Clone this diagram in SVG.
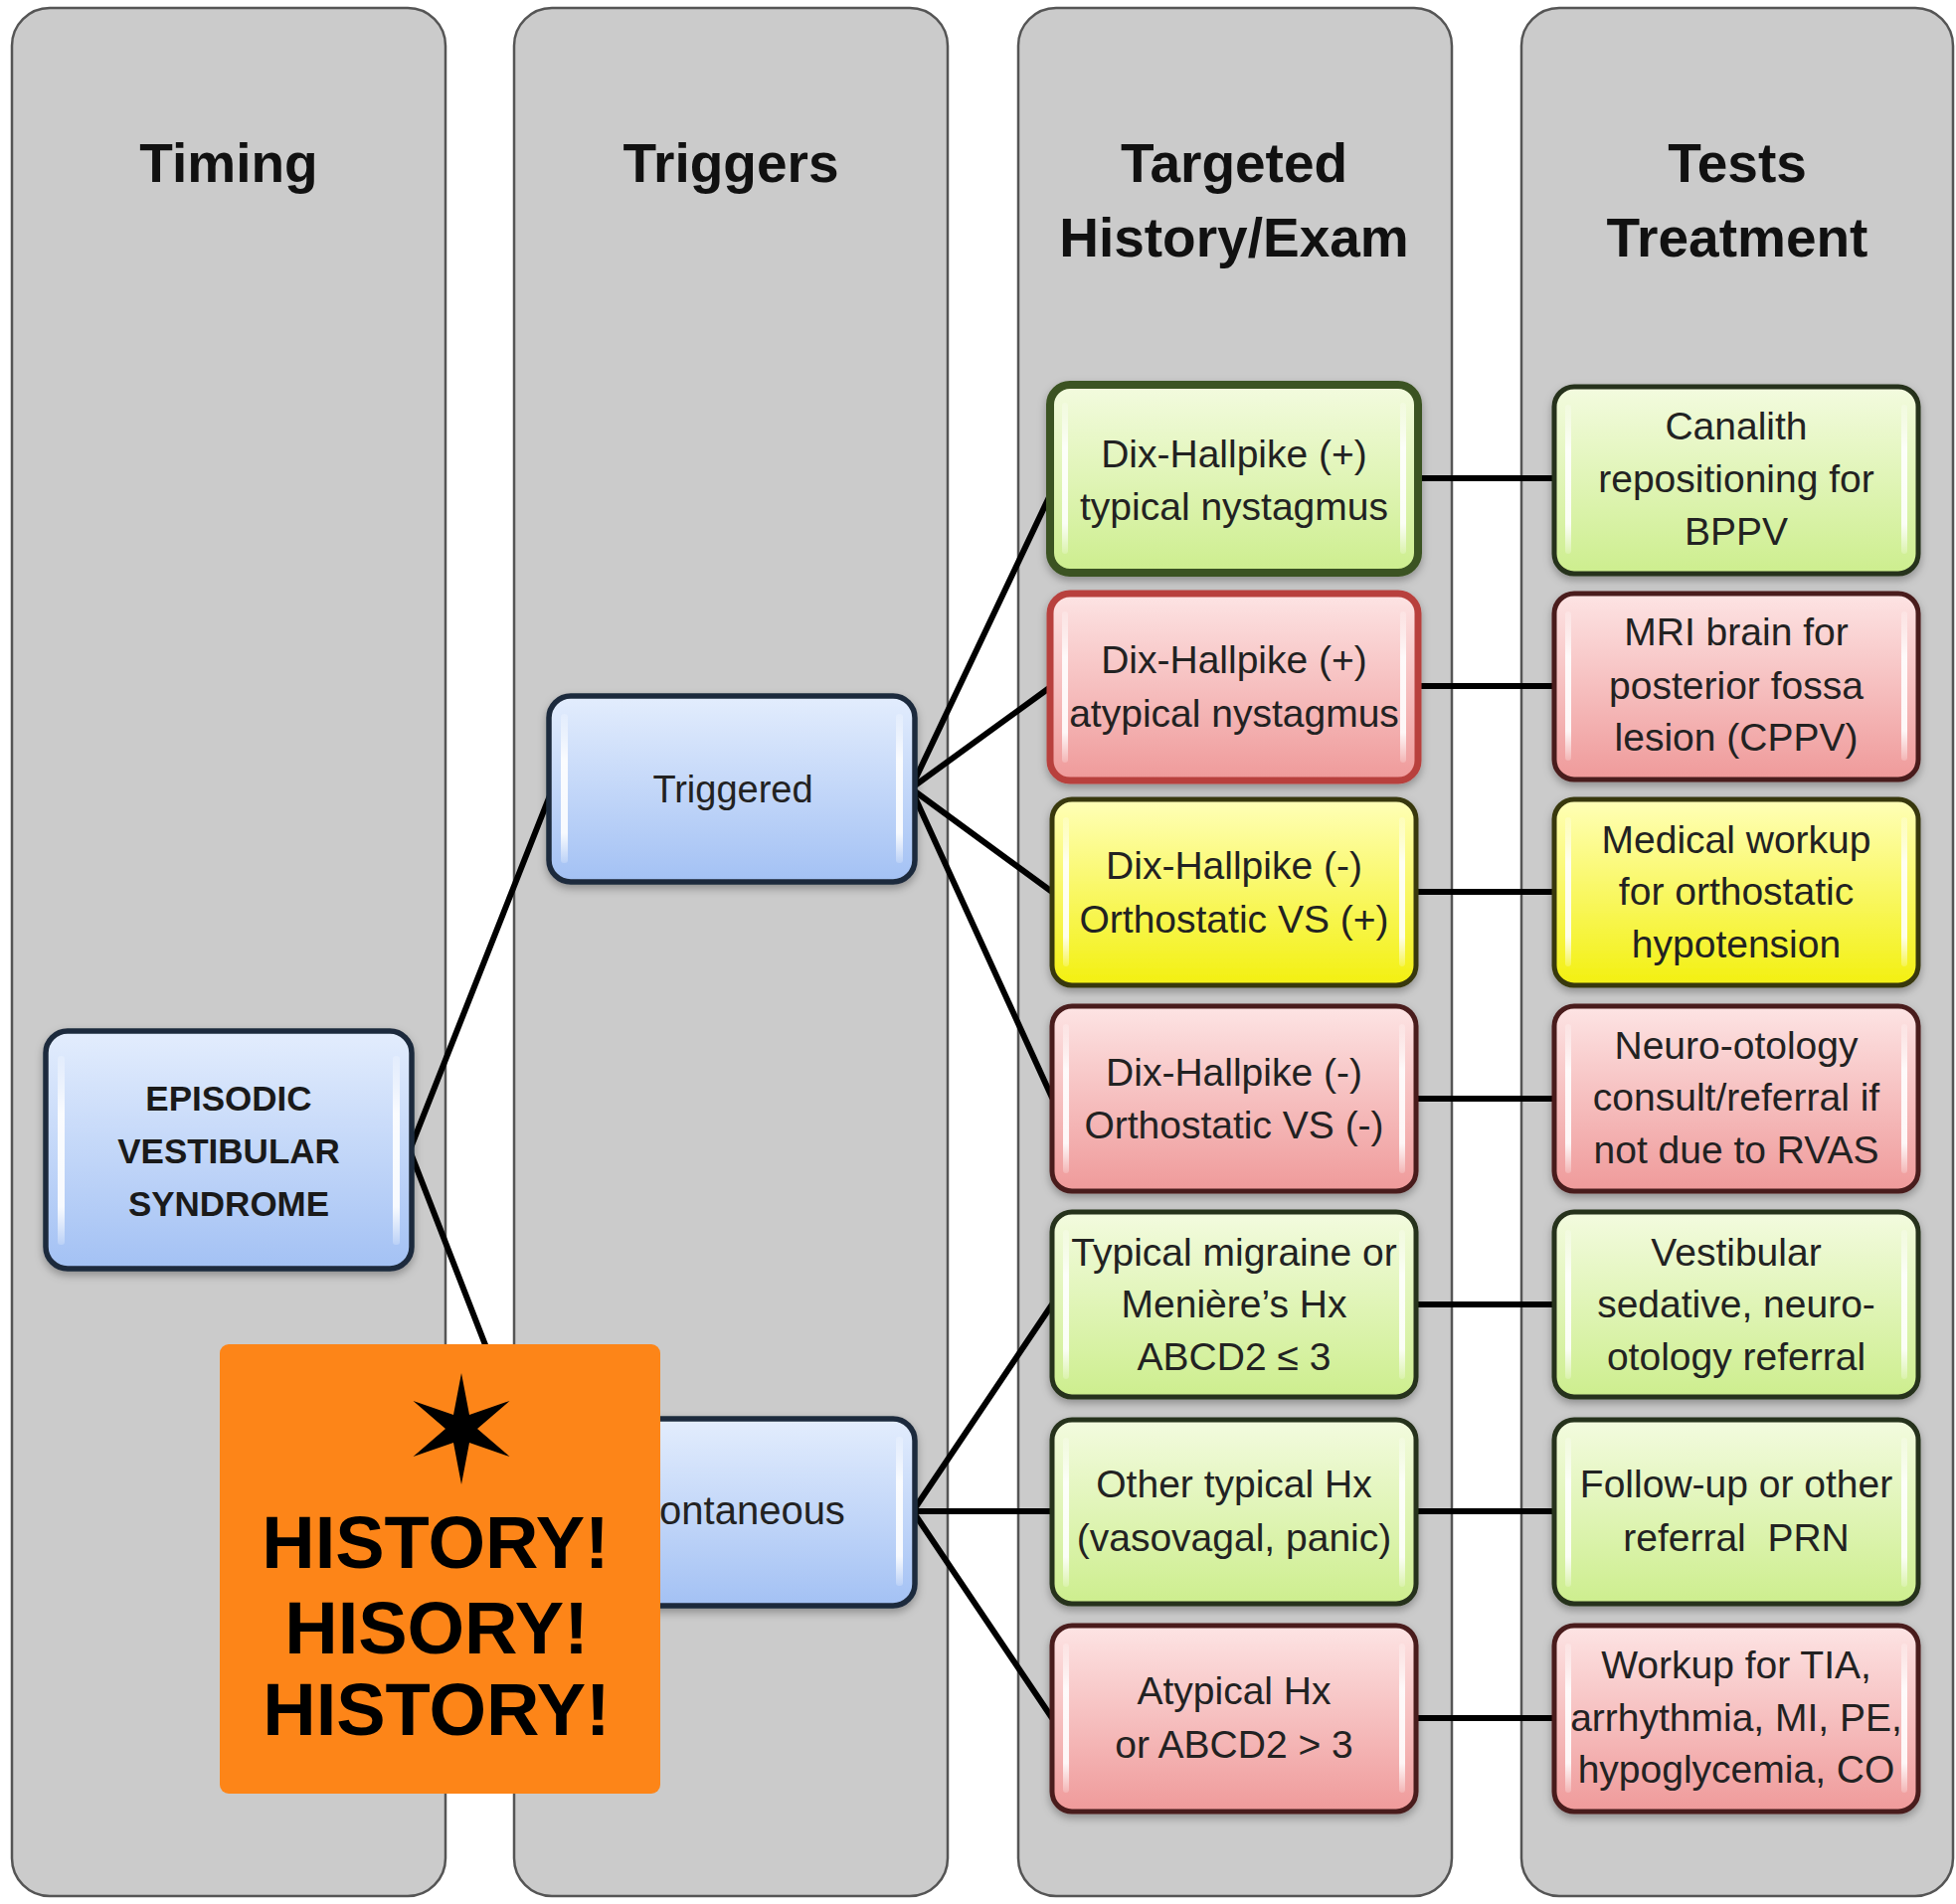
<svg xmlns="http://www.w3.org/2000/svg" width="1967" height="1915" viewBox="0 0 1967 1915">
<defs>
<linearGradient id="gBlue" x1="0" y1="0" x2="0" y2="1"><stop offset="0" stop-color="#E3EDFD"/><stop offset="1" stop-color="#A3C1F4"/></linearGradient>
<linearGradient id="gGreen" x1="0" y1="0" x2="0" y2="1"><stop offset="0" stop-color="#F3FBDF"/><stop offset="1" stop-color="#CDEE8E"/></linearGradient>
<linearGradient id="gRed" x1="0" y1="0" x2="0" y2="1"><stop offset="0" stop-color="#FDE4E4"/><stop offset="1" stop-color="#EF9A9A"/></linearGradient>
<linearGradient id="gYellow" x1="0" y1="0" x2="0" y2="1"><stop offset="0" stop-color="#FFFFB8"/><stop offset="1" stop-color="#F3F010"/></linearGradient>
<linearGradient id="gHi" x1="0" y1="0" x2="0" y2="1"><stop offset="0" stop-color="#FFFFFF" stop-opacity="0.2"/><stop offset="0.3" stop-color="#FFFFFF" stop-opacity="0.9"/><stop offset="0.8" stop-color="#FFFFFF" stop-opacity="0.9"/><stop offset="1" stop-color="#FFFFFF" stop-opacity="0.2"/></linearGradient>
<filter id="sh" x="-10%" y="-10%" width="120%" height="130%"><feDropShadow dx="0" dy="4" stdDeviation="4" flood-color="#000" flood-opacity="0.3"/></filter>
</defs>
<style>
.col{fill:#CBCBCB;stroke:#555;stroke-width:2.5}
.hdr{font-family:"Liberation Sans",Arial,sans-serif;font-weight:bold;font-size:55px;fill:#111;text-anchor:middle}
.t{font-family:"Liberation Sans",Arial,sans-serif;font-size:39px;fill:#222;text-anchor:middle}
.tb{font-family:"Liberation Sans",Arial,sans-serif;font-size:35px;font-weight:bold;fill:#1a1a1a;text-anchor:middle}
.blue{fill:url(#gBlue);stroke:#1E2B3C;stroke-width:5.5}
.green{fill:url(#gGreen);stroke:#26301A;stroke-width:5}
.red{fill:url(#gRed);stroke:#4A1C1C;stroke-width:5}
.yellow{fill:url(#gYellow);stroke:#38380E;stroke-width:5}
.hi{fill:url(#gHi)}
.conn{stroke:#000;stroke-width:6;fill:none;stroke-linecap:round}
.big{font-family:"Liberation Sans",Arial,sans-serif;font-weight:bold;font-size:74px;fill:#000;text-anchor:middle}
</style>

<g id="columns">
<rect class="col" x="12" y="8" width="436" height="1899" rx="38"/>
<rect class="col" x="517" y="8" width="436" height="1899" rx="38"/>
<rect class="col" x="1024" y="8" width="436" height="1899" rx="38"/>
<rect class="col" x="1530" y="8" width="434" height="1899" rx="38"/>
<text class="hdr" x="230" y="183">Timing</text>
<text class="hdr" x="735" y="183">Triggers</text>
<text class="hdr" x="1241" y="183">Targeted</text>
<text class="hdr" x="1241" y="258">History/Exam</text>
<text class="hdr" x="1747" y="183">Tests</text>
<text class="hdr" x="1747" y="258">Treatment</text>
</g>

<g id="connectors">
<line class="conn" x1="412" y1="1157" x2="553" y2="800"/>
<line class="conn" x1="412" y1="1157" x2="553" y2="1520"/>
<line class="conn" x1="916" y1="793" x2="1055" y2="500"/>
<line class="conn" x1="916" y1="793" x2="1055" y2="692"/>
<line class="conn" x1="916" y1="793" x2="1058" y2="897"/>
<line class="conn" x1="916" y1="793" x2="1058" y2="1104"/>
<line class="conn" x1="918" y1="1520" x2="1058" y2="1312"/>
<line class="conn" x1="918" y1="1520" x2="1058" y2="1520"/>
<line class="conn" x1="918" y1="1520" x2="1058" y2="1728"/>
<line class="conn" x1="1426" y1="481" x2="1564" y2="481"/>
<line class="conn" x1="1426" y1="690" x2="1564" y2="690"/>
<line class="conn" x1="1424" y1="897" x2="1564" y2="897"/>
<line class="conn" x1="1424" y1="1105" x2="1564" y2="1105"/>
<line class="conn" x1="1424" y1="1312" x2="1564" y2="1312"/>
<line class="conn" x1="1424" y1="1520" x2="1564" y2="1520"/>
<line class="conn" x1="1424" y1="1728" x2="1564" y2="1728"/>
</g>

<g id="episodic">
<rect class="blue" x="46" y="1037" width="368" height="239" rx="22" filter="url(#sh)"/>
<rect class="hi" x="58" y="1062" width="7" height="190" rx="3"/>
<rect class="hi" x="395" y="1062" width="7" height="190" rx="3"/>
<text class="tb" x="230" y="1117">EPISODIC</text>
<text class="tb" x="230" y="1170">VESTIBULAR</text>
<text class="tb" x="230" y="1223">SYNDROME</text>
</g>

<g id="triggered">
<rect class="blue" x="552" y="700" width="368" height="187" rx="22" filter="url(#sh)"/>
<rect class="hi" x="564" y="718" width="7" height="150" rx="3"/>
<rect class="hi" x="901" y="718" width="7" height="150" rx="3"/>
<text class="t" x="737" y="807" style="font-size:38px">Triggered</text>
</g>

<g id="spontaneous">
<rect class="blue" x="552" y="1427" width="368" height="188" rx="22" filter="url(#sh)"/>
<rect class="hi" x="564" y="1445" width="7" height="150" rx="3"/>
<rect class="hi" x="901" y="1445" width="7" height="150" rx="3"/>
<text class="t" x="732" y="1533" style="font-size:40px">Spontaneous</text>
</g>

<g id="h1">
<rect class="green" x="1056" y="387" width="370" height="189" rx="20" style="stroke:#3A5220;stroke-width:8" filter="url(#sh)"/>
<rect class="hi" x="1068" y="405" width="6" height="152" rx="3"/>
<rect class="hi" x="1408" y="405" width="6" height="152" rx="3"/>
<text class="t" x="1241" y="470">Dix-Hallpike (+)</text>
<text class="t" x="1241" y="523">typical nystagmus</text>
</g>
<g id="h2">
<rect class="red" x="1056" y="597" width="370" height="188" rx="20" style="stroke:#B8413E;stroke-width:7" filter="url(#sh)"/>
<rect class="hi" x="1068" y="615" width="6" height="152" rx="3"/>
<rect class="hi" x="1408" y="615" width="6" height="152" rx="3"/>
<text class="t" x="1241" y="677">Dix-Hallpike (+)</text>
<text class="t" x="1241" y="731">atypical nystagmus</text>
</g>
<g id="h3">
<rect class="yellow" x="1058" y="804" width="366" height="187" rx="20" filter="url(#sh)"/>
<rect class="hi" x="1069" y="822" width="6" height="150" rx="3"/>
<rect class="hi" x="1407" y="822" width="6" height="150" rx="3"/>
<text class="t" x="1241" y="884">Dix-Hallpike (-)</text>
<text class="t" x="1241" y="938">Orthostatic VS (+)</text>
</g>
<g id="h4">
<rect class="red" x="1058" y="1012" width="366" height="186" rx="20" filter="url(#sh)"/>
<rect class="hi" x="1069" y="1030" width="6" height="150" rx="3"/>
<rect class="hi" x="1407" y="1030" width="6" height="150" rx="3"/>
<text class="t" x="1241" y="1092">Dix-Hallpike (-)</text>
<text class="t" x="1241" y="1145">Orthostatic VS (-)</text>
</g>
<g id="h5">
<rect class="green" x="1058" y="1219" width="366" height="186" rx="20" filter="url(#sh)"/>
<rect class="hi" x="1069" y="1237" width="6" height="150" rx="3"/>
<rect class="hi" x="1407" y="1237" width="6" height="150" rx="3"/>
<text class="t" x="1241" y="1273">Typical migraine or</text>
<text class="t" x="1241" y="1325">Menière’s Hx</text>
<text class="t" x="1241" y="1378">ABCD2 ≤ 3</text>
</g>
<g id="h6">
<rect class="green" x="1058" y="1428" width="366" height="185" rx="20" filter="url(#sh)"/>
<rect class="hi" x="1069" y="1446" width="6" height="150" rx="3"/>
<rect class="hi" x="1407" y="1446" width="6" height="150" rx="3"/>
<text class="t" x="1241" y="1506">Other typical Hx</text>
<text class="t" x="1241" y="1560">(vasovagal, panic)</text>
</g>
<g id="h7">
<rect class="red" x="1058" y="1635" width="366" height="187" rx="20" filter="url(#sh)"/>
<rect class="hi" x="1069" y="1653" width="6" height="150" rx="3"/>
<rect class="hi" x="1407" y="1653" width="6" height="150" rx="3"/>
<text class="t" x="1241" y="1714">Atypical Hx</text>
<text class="t" x="1241" y="1768">or ABCD2 &gt; 3</text>
</g>

<g id="t1">
<rect class="green" x="1563" y="389" width="366" height="188" rx="20" filter="url(#sh)"/>
<rect class="hi" x="1574" y="407" width="6" height="150" rx="3"/>
<rect class="hi" x="1912" y="407" width="6" height="150" rx="3"/>
<text class="t" x="1746" y="442">Canalith</text>
<text class="t" x="1746" y="495">repositioning for</text>
<text class="t" x="1746" y="548">BPPV</text>
</g>
<g id="t2">
<rect class="red" x="1563" y="597" width="366" height="187" rx="20" filter="url(#sh)"/>
<rect class="hi" x="1574" y="615" width="6" height="150" rx="3"/>
<rect class="hi" x="1912" y="615" width="6" height="150" rx="3"/>
<text class="t" x="1746" y="649">MRI brain for</text>
<text class="t" x="1746" y="703">posterior fossa</text>
<text class="t" x="1746" y="755">lesion (CPPV)</text>
</g>
<g id="t3">
<rect class="yellow" x="1563" y="804" width="366" height="187" rx="20" filter="url(#sh)"/>
<rect class="hi" x="1574" y="822" width="6" height="150" rx="3"/>
<rect class="hi" x="1912" y="822" width="6" height="150" rx="3"/>
<text class="t" x="1746" y="858">Medical workup</text>
<text class="t" x="1746" y="910">for orthostatic</text>
<text class="t" x="1746" y="963">hypotension</text>
</g>
<g id="t4">
<rect class="red" x="1563" y="1012" width="366" height="186" rx="20" filter="url(#sh)"/>
<rect class="hi" x="1574" y="1030" width="6" height="150" rx="3"/>
<rect class="hi" x="1912" y="1030" width="6" height="150" rx="3"/>
<text class="t" x="1746" y="1065">Neuro-otology</text>
<text class="t" x="1746" y="1117">consult/referral if</text>
<text class="t" x="1746" y="1170">not due to RVAS</text>
</g>
<g id="t5">
<rect class="green" x="1563" y="1219" width="366" height="186" rx="20" filter="url(#sh)"/>
<rect class="hi" x="1574" y="1237" width="6" height="150" rx="3"/>
<rect class="hi" x="1912" y="1237" width="6" height="150" rx="3"/>
<text class="t" x="1746" y="1273">Vestibular</text>
<text class="t" x="1746" y="1325">sedative, neuro-</text>
<text class="t" x="1746" y="1378">otology referral</text>
</g>
<g id="t6">
<rect class="green" x="1563" y="1428" width="366" height="185" rx="20" filter="url(#sh)"/>
<rect class="hi" x="1574" y="1446" width="6" height="150" rx="3"/>
<rect class="hi" x="1912" y="1446" width="6" height="150" rx="3"/>
<text class="t" x="1746" y="1506">Follow-up or other</text>
<text class="t" x="1746" y="1560" xml:space="preserve">referral  PRN</text>
</g>
<g id="t7">
<rect class="red" x="1563" y="1635" width="366" height="187" rx="20" filter="url(#sh)"/>
<rect class="hi" x="1574" y="1653" width="6" height="150" rx="3"/>
<rect class="hi" x="1912" y="1653" width="6" height="150" rx="3"/>
<text class="t" x="1746" y="1688">Workup for TIA,</text>
<text class="t" x="1746" y="1741">arrhythmia, MI, PE,</text>
<text class="t" x="1746" y="1793">hypoglycemia, CO</text>
</g>

<g id="history-note">
<rect x="221" y="1352" width="443" height="452" rx="9" fill="#FD8518"/>
<polygon fill="#000" points="464,1381 472,1423.1 512.5,1409 480,1437 512.5,1465 472,1450.9 464,1493 456,1450.9 415.5,1465 448,1437 415.5,1409 456,1423.1"/>
<text class="big" x="438" y="1577">HISTORY!</text>
<text class="big" x="439" y="1663">HISORY!</text>
<text class="big" x="439" y="1745">HISTORY!</text>
</g>
</svg>
